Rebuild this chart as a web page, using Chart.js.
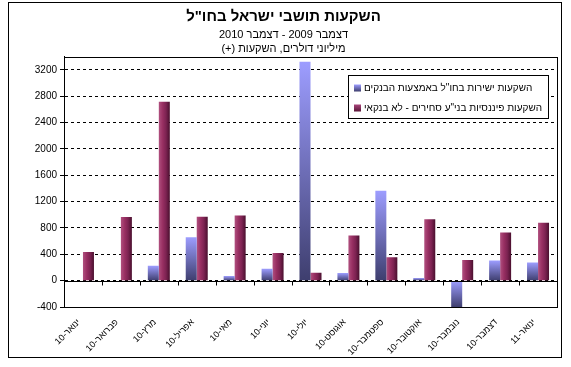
<!DOCTYPE html>
<html lang="he">
<head>
<meta charset="utf-8">
<title>השקעות תושבי ישראל בחו"ל</title>
<script src="https://cdn.jsdelivr.net/npm/chart.js@4.4.1/dist/chart.umd.min.js"></script>
<style>
    html, body { margin: 0; padding: 0; background: #fff; }
    #wrap { width: 571px; height: 367px; }
</style>
</head>
<body>
<div id="wrap"><canvas id="chart" width="571" height="367"></canvas></div>
<script>
// נתונים - מיליוני דולרים
const months = [
    'ינואר-10', 'פברואר-10', 'מרץ-10', 'אפריל-10', 'מאי-10', 'יוני-10', 'יולי-10',
    'אוגוסט-10', 'ספטמבר-10', 'אוקטובר-10', 'נובמבר-10', 'דצמבר-10', 'ינואר-11'
];
const bankDirect = [-10, 5, 225, 660, 70, 180, 3320, 115, 1365, 40, -400, 305, 275];
const nonBankFinancial = [435, 965, 2715, 970, 990, 420, 120, 685, 355, 930, 315, 730, 880];
const seriesNames = [
    'השקעות ישירות בחו"ל באמצעות הבנקים',
    'השקעות פיננסיות בני"ע סחירים - לא בנקאי'
];
const yMin = -400;
const yMax = 3400;
const yStep = 400;
const yLastLabel = 3200;

const FONT = "'Liberation Sans', Arial, sans-serif";
const CAT_PCT = 0.58;

// מילוי מדורג לעמודות הכחולות (בהיר למעלה, כהה למטה)
function blueFill(context) {
    const chart = context.chart;
    const y = chart.scales.y;
    if (!y || context.type !== 'data') return '#6f6fc0';
    const a = y.getPixelForValue(context.raw);
    const b = y.getPixelForValue(0);
    const top = Math.min(a, b), bottom = Math.max(a, b);
    if (!isFinite(top) || bottom - top < 1) return '#5a5a9a';
    const g = chart.ctx.createLinearGradient(0, top, 0, bottom);
    g.addColorStop(0, '#9d9dff');
    g.addColorStop(1, '#3e3e6e');
    return g;
}

// מילוי אופקי לעמודות הבורדו
function maroonFill(context) {
    const chart = context.chart;
    const x = chart.scales.x;
    if (!x || context.type !== 'data') return '#8b2a5a';
    const center = x.getPixelForValue(context.dataIndex);
    const w = (x.width / months.length) * CAT_PCT / 2;
    if (!isFinite(center)) return '#8b2a5a';
    const g = chart.ctx.createLinearGradient(center, 0, center + w, 0);
    g.addColorStop(0, '#b0507f');
    g.addColorStop(0.35, '#982f62');
    g.addColorStop(0.65, '#7d2352');
    g.addColorStop(1, '#4a0f2e');
    return g;
}

// מסגרת חיצונית
const outerFrame = {
    id: 'outerFrame',
    beforeDraw(chart) {
        const ctx = chart.ctx;
        ctx.save();
        ctx.fillStyle = '#fff';
        ctx.fillRect(0, 0, chart.width, chart.height);
        ctx.strokeStyle = '#000';
        ctx.lineWidth = 1;
        ctx.strokeRect(8.5, 2.5, 553, 355);
        ctx.restore();
    }
};

// קו האפס, סימוני הקטגוריות ומסגרת אזור השרטוט
const plotFrame = {
    id: 'plotFrame',
    afterDatasetsDraw(chart) {
        const ctx = chart.ctx;
        const area = chart.chartArea;
        const y0 = Math.round(chart.scales.y.getPixelForValue(0)) + 0.5;
        const x = chart.scales.x;
        const step = x.width / months.length;
        ctx.save();
        ctx.strokeStyle = '#000';
        ctx.lineWidth = 1;
        ctx.beginPath();
        ctx.moveTo(area.left, y0);
        ctx.lineTo(area.right, y0);
        for (let i = 1; i < months.length; i++) {
            const px = Math.round(area.left + i * step) + 0.5;
            ctx.moveTo(px, y0);
            ctx.lineTo(px, y0 + 4);
        }
        ctx.stroke();
        ctx.strokeRect(Math.round(area.left) + 0.5, Math.round(area.top) + 0.5,
            Math.round(area.right - area.left), Math.round(area.bottom - area.top));
        ctx.restore();
    }
};

// מקרא בתוך אזור השרטוט
const legendBox = {
    id: 'legendBox',
    afterDraw(chart) {
        const ctx = chart.ctx;
        const bx = 348.5, by = 75.5, bw = 200, bh = 43;
        ctx.save();
        ctx.fillStyle = '#fff';
        ctx.fillRect(bx, by, bw, bh);
        ctx.strokeStyle = '#000';
        ctx.lineWidth = 1;
        ctx.strokeRect(bx, by, bw, bh);
        ctx.font = '10px ' + FONT;
        ctx.textBaseline = 'middle';
        ctx.textAlign = 'left';
        const rows = [88, 108];
        chart.data.datasets.forEach((ds, i) => {
            const ry = rows[i];
            const g = ctx.createLinearGradient(0, ry - 3.5, 0, ry + 3.5);
            if (i === 0) {
                g.addColorStop(0, '#9d9dff');
                g.addColorStop(1, '#3e3e6e');
            } else {
                g.addColorStop(0, '#a8457a');
                g.addColorStop(1, '#5a1638');
            }
            ctx.fillStyle = g;
            ctx.fillRect(354, ry - 3.5, 7, 7);
            ctx.fillStyle = '#000';
            ctx.fillText(ds.label, 364, ry + 0.5);
        });
        ctx.restore();
    }
};

new Chart(document.getElementById('chart'), {
    type: 'bar',
    data: {
        labels: months,
        datasets: [
            {
                label: seriesNames[0],
                data: bankDirect,
                backgroundColor: blueFill,
                borderWidth: 0,
                categoryPercentage: CAT_PCT,
                barPercentage: 1.0
            },
            {
                label: seriesNames[1],
                data: nonBankFinancial,
                backgroundColor: maroonFill,
                borderWidth: 0,
                categoryPercentage: CAT_PCT,
                barPercentage: 1.0
            }
        ]
    },
    options: {
        responsive: false,
        animation: false,
        layout: { padding: { left: 10, right: 14, top: 0, bottom: 10 } },
        plugins: {
            legend: { display: false },
            tooltip: { enabled: false },
            title: {
                display: true,
                text: 'השקעות תושבי ישראל בחו"ל',
                color: '#000',
                font: { family: FONT, size: 15, weight: 'bold' },
                padding: { top: 8, bottom: 2 }
            },
            subtitle: {
                display: true,
                // הקנבס מצייר מימין לשמאל, לכן (+) בתחילת המחרוזת כדי שיופיע בצד ימין
                text: ['דצמבר 2009 - דצמבר 2010', '(+) מיליוני דולרים, השקעות'],
                color: '#000',
                font: { family: FONT, size: 11, lineHeight: 1.3 },
                padding: { top: 0, bottom: 0 }
            }
        },
        scales: {
            x: {
                grid: { display: false },
                border: { display: true, color: '#000' },
                afterFit: s => { s.height = 50; },
                ticks: {
                    color: '#000',
                    font: { family: FONT, size: 9 },
                    minRotation: 45,
                    maxRotation: 45,
                    autoSkip: false,
                    padding: 2,
                    labelOffset: -4
                }
            },
            y: {
                min: yMin,
                max: yMax,
                afterFit: s => { s.width = 54; },
                afterBuildTicks: axis => {
                    axis.ticks = axis.ticks.filter(t => t.value % yStep === 0 && t.value <= yLastLabel);
                },
                grid: {
                    color: '#000',
                    lineWidth: 1,
                    drawTicks: true,
                    tickLength: 4,
                    tickColor: '#000'
                },
                border: { display: true, color: '#000', dash: [3, 3] },
                ticks: {
                    stepSize: yStep,
                    color: '#000',
                    font: { family: FONT, size: 10 },
                    padding: 3,
                    callback: v => String(v)
                }
            }
        }
    },
    plugins: [outerFrame, plotFrame, legendBox]
});
</script>
</body>
</html>
